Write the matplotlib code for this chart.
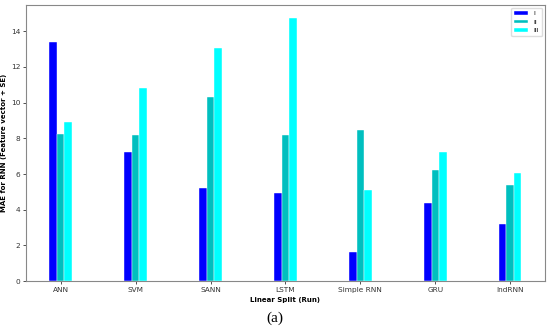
import numpy as np
from matplotlib import pyplot as plt

# Models on the x axis and MAE values per run
models = ['ANN', 'SVM', 'SANN', 'LSTM', 'Simple RNN', 'GRU', 'IndRNN']
run_labels = ['I', 'II', 'III']
mae_i = [13.38, 7.21, 5.21, 4.96, 1.65, 4.40, 3.22]
mae_ii = [8.24, 8.20, 10.29, 8.20, 8.49, 6.20, 5.40]
mae_iii = [8.92, 10.83, 13.08, 14.73, 5.10, 7.23, 6.03]

colors = ['#0000ff', '#00bfbf', '#00ffff']
width = 0.1

fig = plt.figure(figsize=(5.5, 3.3), dpi=100)
ax = fig.add_axes([0.047, 0.148, 0.944, 0.837])

x = np.arange(len(models))
for i, (vals, lab) in enumerate(zip([mae_i, mae_ii, mae_iii], run_labels)):
    ax.bar(x + (i - 1) * width, vals, width, color=colors[i], label=lab,
           edgecolor='white', linewidth=0.3)

ax.set_xticks(x)
ax.set_xticklabels(models, fontsize=5.3)
ax.set_yticks(range(0, 15, 2))
ax.tick_params(axis='y', labelsize=5.3)
ax.tick_params(length=2, width=0.6, pad=2, colors='#333333')
ax.set_xlabel('Linear Split (Run)', fontsize=5, fontweight='bold', labelpad=3)
ax.set_ylabel('MAE for RNN (Feature vector + SE)', fontsize=5, fontweight='bold', labelpad=3)
for s in ax.spines.values():
    s.set_color('#888888')
    s.set_linewidth(0.8)

ax.legend(loc='upper right', fontsize=4.5, handlelength=2.2, handleheight=0.5,
          borderpad=0.5, labelspacing=0.55, handletextpad=0.8, framealpha=1,
          edgecolor='#dddddd')

fig.text(0.5, 0.036, '(a)', ha='center', va='center', fontsize=11, family='Liberation Serif')

fig.savefig('out.png', dpi=100)
